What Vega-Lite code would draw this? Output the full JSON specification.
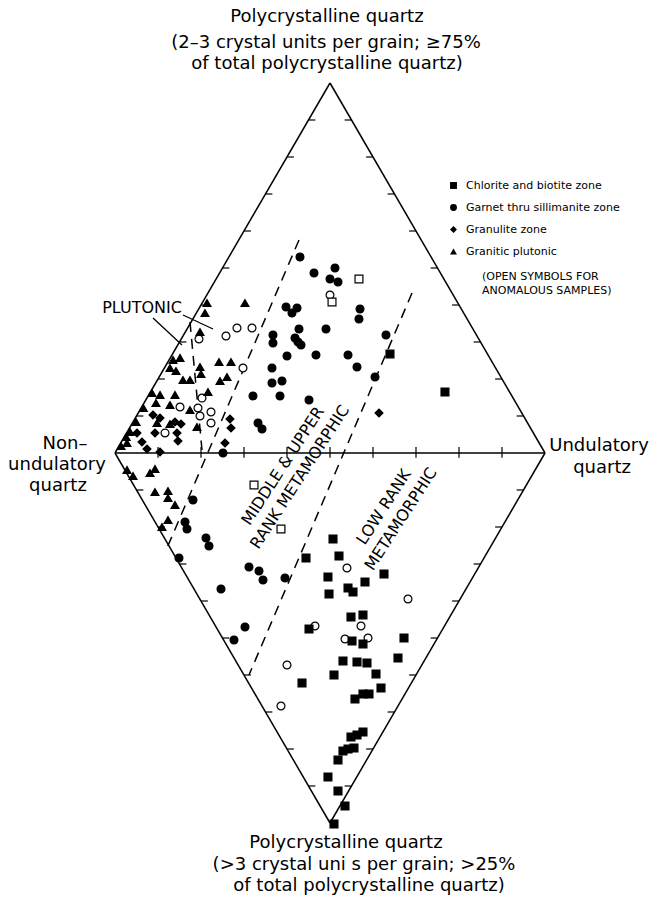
{
  "$schema": "https://vega.github.io/schema/vega-lite/v6.json",
  "width": 650,
  "height": 901,
  "autosize": "none",
  "padding": 0,
  "background": "white",
  "config": {"view": {"stroke": null}, "font": "DejaVu Sans"},
  "datasets": {
    "frame": [
      {"x": 0, "y": 0, "x2": 50, "y2": 100},
      {"x": 50, "y": 100, "x2": 100, "y2": 0},
      {"x": 100, "y": 0, "x2": 50, "y2": -100},
      {"x": 50, "y": -100, "x2": 0, "y2": 0},
      {"x": 0, "y": 0, "x2": 100, "y2": 0}
    ],
    "ticks": [
      {"x": 5, "y": 10, "x2": 6.6, "y2": 10}, {"x": 10, "y": 20, "x2": 11.6, "y2": 20}, {"x": 15, "y": 30, "x2": 16.6, "y2": 30},
      {"x": 20, "y": 40, "x2": 21.6, "y2": 40}, {"x": 25, "y": 50, "x2": 26.6, "y2": 50}, {"x": 30, "y": 60, "x2": 31.6, "y2": 60},
      {"x": 35, "y": 70, "x2": 36.6, "y2": 70}, {"x": 40, "y": 80, "x2": 41.6, "y2": 80}, {"x": 45, "y": 90, "x2": 46.6, "y2": 90},
      {"x": 95, "y": 10, "x2": 93.4, "y2": 10}, {"x": 90, "y": 20, "x2": 88.4, "y2": 20}, {"x": 85, "y": 30, "x2": 83.4, "y2": 30},
      {"x": 80, "y": 40, "x2": 78.4, "y2": 40}, {"x": 75, "y": 50, "x2": 73.4, "y2": 50}, {"x": 70, "y": 60, "x2": 68.4, "y2": 60},
      {"x": 65, "y": 70, "x2": 63.4, "y2": 70}, {"x": 60, "y": 80, "x2": 58.4, "y2": 80}, {"x": 55, "y": 90, "x2": 53.4, "y2": 90},
      {"x": 5, "y": -10, "x2": 6.6, "y2": -10}, {"x": 10, "y": -20, "x2": 11.6, "y2": -20}, {"x": 15, "y": -30, "x2": 16.6, "y2": -30},
      {"x": 20, "y": -40, "x2": 21.6, "y2": -40}, {"x": 25, "y": -50, "x2": 26.6, "y2": -50}, {"x": 30, "y": -60, "x2": 31.6, "y2": -60},
      {"x": 35, "y": -70, "x2": 36.6, "y2": -70}, {"x": 40, "y": -80, "x2": 41.6, "y2": -80}, {"x": 45, "y": -90, "x2": 46.6, "y2": -90},
      {"x": 95, "y": -10, "x2": 93.4, "y2": -10}, {"x": 90, "y": -20, "x2": 88.4, "y2": -20}, {"x": 85, "y": -30, "x2": 83.4, "y2": -30},
      {"x": 80, "y": -40, "x2": 78.4, "y2": -40}, {"x": 75, "y": -50, "x2": 73.4, "y2": -50}, {"x": 70, "y": -60, "x2": 68.4, "y2": -60},
      {"x": 65, "y": -70, "x2": 63.4, "y2": -70}, {"x": 60, "y": -80, "x2": 58.4, "y2": -80}, {"x": 55, "y": -90, "x2": 53.4, "y2": -90},
      {"x": 10, "y": -1.3, "x2": 10, "y2": 1.6}, {"x": 20, "y": -1.3, "x2": 20, "y2": 1.6}, {"x": 30, "y": -1.3, "x2": 30, "y2": 1.6},
      {"x": 40, "y": -1.3, "x2": 40, "y2": 1.6}, {"x": 50, "y": -1.3, "x2": 50, "y2": 1.6}, {"x": 60, "y": -1.3, "x2": 60, "y2": 1.6},
      {"x": 70, "y": -1.3, "x2": 70, "y2": 1.6}, {"x": 80, "y": -1.3, "x2": 80, "y2": 1.6}, {"x": 90, "y": -1.3, "x2": 90, "y2": 1.6}
    ],
    "dashes": [
      {"x": 42.79, "y": 57.57, "x2": 12.09, "y2": -25.68},
      {"x": 69.07, "y": 43.24, "x2": 31.16, "y2": -60.0},
      {"x": 17.44, "y": 35.41, "x2": 20.23, "y2": 0.81}
    ],
    "leaders": [
      {"x": 8.84, "y": 36.49, "x2": 15.58, "y2": 29.19},
      {"x": 15.81, "y": 37.3, "x2": 22.79, "y2": 33.51}
    ],
    "points": [
      {"x": 43.02, "y": 52.97, "zone": "Garnet thru sillimanite zone", "open": 0},
      {"x": 46.28, "y": 48.65, "zone": "Garnet thru sillimanite zone", "open": 0},
      {"x": 51.16, "y": 50.0, "zone": "Garnet thru sillimanite zone", "open": 0},
      {"x": 50.0, "y": 47.03, "zone": "Garnet thru sillimanite zone", "open": 0},
      {"x": 51.86, "y": 46.22, "zone": "Garnet thru sillimanite zone", "open": 0},
      {"x": 39.77, "y": 39.46, "zone": "Garnet thru sillimanite zone", "open": 0},
      {"x": 41.16, "y": 37.84, "zone": "Garnet thru sillimanite zone", "open": 0},
      {"x": 42.33, "y": 39.19, "zone": "Garnet thru sillimanite zone", "open": 0},
      {"x": 56.98, "y": 38.92, "zone": "Garnet thru sillimanite zone", "open": 0},
      {"x": 56.74, "y": 36.22, "zone": "Garnet thru sillimanite zone", "open": 0},
      {"x": 42.79, "y": 33.51, "zone": "Garnet thru sillimanite zone", "open": 0},
      {"x": 49.07, "y": 33.51, "zone": "Garnet thru sillimanite zone", "open": 0},
      {"x": 41.86, "y": 31.08, "zone": "Garnet thru sillimanite zone", "open": 0},
      {"x": 42.56, "y": 30.0, "zone": "Garnet thru sillimanite zone", "open": 0},
      {"x": 43.26, "y": 29.19, "zone": "Garnet thru sillimanite zone", "open": 0},
      {"x": 63.02, "y": 31.89, "zone": "Garnet thru sillimanite zone", "open": 0},
      {"x": 40.0, "y": 26.22, "zone": "Garnet thru sillimanite zone", "open": 0},
      {"x": 46.74, "y": 26.49, "zone": "Garnet thru sillimanite zone", "open": 0},
      {"x": 54.19, "y": 26.49, "zone": "Garnet thru sillimanite zone", "open": 0},
      {"x": 56.28, "y": 23.24, "zone": "Garnet thru sillimanite zone", "open": 0},
      {"x": 38.84, "y": 19.46, "zone": "Garnet thru sillimanite zone", "open": 0},
      {"x": 60.47, "y": 20.54, "zone": "Garnet thru sillimanite zone", "open": 0},
      {"x": 38.37, "y": 15.41, "zone": "Garnet thru sillimanite zone", "open": 0},
      {"x": 45.12, "y": 14.32, "zone": "Garnet thru sillimanite zone", "open": 0},
      {"x": 36.74, "y": 31.89, "zone": "Garnet thru sillimanite zone", "open": 0},
      {"x": 36.74, "y": 29.73, "zone": "Garnet thru sillimanite zone", "open": 0},
      {"x": 36.51, "y": 22.97, "zone": "Garnet thru sillimanite zone", "open": 0},
      {"x": 36.51, "y": 18.92, "zone": "Garnet thru sillimanite zone", "open": 0},
      {"x": 32.09, "y": 15.41, "zone": "Garnet thru sillimanite zone", "open": 0},
      {"x": 33.26, "y": 8.11, "zone": "Garnet thru sillimanite zone", "open": 0},
      {"x": 34.19, "y": 6.49, "zone": "Garnet thru sillimanite zone", "open": 0},
      {"x": 25.12, "y": 0, "zone": "Garnet thru sillimanite zone", "open": 0},
      {"x": 18.14, "y": -12.7, "zone": "Garnet thru sillimanite zone", "open": 0},
      {"x": 16.28, "y": -18.65, "zone": "Garnet thru sillimanite zone", "open": 0},
      {"x": 16.74, "y": -20.54, "zone": "Garnet thru sillimanite zone", "open": 0},
      {"x": 21.16, "y": -22.97, "zone": "Garnet thru sillimanite zone", "open": 0},
      {"x": 21.86, "y": -25.14, "zone": "Garnet thru sillimanite zone", "open": 0},
      {"x": 14.88, "y": -28.38, "zone": "Garnet thru sillimanite zone", "open": 0},
      {"x": 31.16, "y": -30.81, "zone": "Garnet thru sillimanite zone", "open": 0},
      {"x": 33.49, "y": -31.89, "zone": "Garnet thru sillimanite zone", "open": 0},
      {"x": 34.42, "y": -34.32, "zone": "Garnet thru sillimanite zone", "open": 0},
      {"x": 39.53, "y": -33.78, "zone": "Garnet thru sillimanite zone", "open": 0},
      {"x": 24.65, "y": -36.76, "zone": "Garnet thru sillimanite zone", "open": 0},
      {"x": 30.23, "y": -47.03, "zone": "Garnet thru sillimanite zone", "open": 0},
      {"x": 27.67, "y": -50.54, "zone": "Garnet thru sillimanite zone", "open": 0},
      {"x": 50.0, "y": 42.7, "zone": "Garnet thru sillimanite zone", "open": 1},
      {"x": 28.37, "y": 33.78, "zone": "Garnet thru sillimanite zone", "open": 1},
      {"x": 31.86, "y": 33.78, "zone": "Garnet thru sillimanite zone", "open": 1},
      {"x": 25.81, "y": 31.62, "zone": "Garnet thru sillimanite zone", "open": 1},
      {"x": 19.53, "y": 30.81, "zone": "Garnet thru sillimanite zone", "open": 1},
      {"x": 29.77, "y": 22.97, "zone": "Garnet thru sillimanite zone", "open": 1},
      {"x": 20.23, "y": 14.86, "zone": "Garnet thru sillimanite zone", "open": 1},
      {"x": 15.12, "y": 12.43, "zone": "Garnet thru sillimanite zone", "open": 1},
      {"x": 19.3, "y": 12.16, "zone": "Garnet thru sillimanite zone", "open": 1},
      {"x": 19.77, "y": 10.0, "zone": "Garnet thru sillimanite zone", "open": 1},
      {"x": 22.33, "y": 11.08, "zone": "Garnet thru sillimanite zone", "open": 1},
      {"x": 22.33, "y": 8.11, "zone": "Garnet thru sillimanite zone", "open": 1},
      {"x": 11.63, "y": 5.41, "zone": "Garnet thru sillimanite zone", "open": 1},
      {"x": 53.95, "y": -31.08, "zone": "Garnet thru sillimanite zone", "open": 1},
      {"x": 68.14, "y": -39.46, "zone": "Garnet thru sillimanite zone", "open": 1},
      {"x": 57.21, "y": -46.76, "zone": "Garnet thru sillimanite zone", "open": 1},
      {"x": 46.51, "y": -46.76, "zone": "Garnet thru sillimanite zone", "open": 1},
      {"x": 53.49, "y": -50.27, "zone": "Garnet thru sillimanite zone", "open": 1},
      {"x": 58.84, "y": -50.0, "zone": "Garnet thru sillimanite zone", "open": 1},
      {"x": 40.0, "y": -57.3, "zone": "Garnet thru sillimanite zone", "open": 1},
      {"x": 38.6, "y": -68.38, "zone": "Garnet thru sillimanite zone", "open": 1},
      {"x": 56.74, "y": 47.03, "zone": "Chlorite and biotite zone", "open": 1},
      {"x": 50.47, "y": 40.81, "zone": "Chlorite and biotite zone", "open": 1},
      {"x": 32.33, "y": -8.65, "zone": "Chlorite and biotite zone", "open": 1},
      {"x": 38.6, "y": -20.54, "zone": "Chlorite and biotite zone", "open": 1},
      {"x": 63.95, "y": 26.76, "zone": "Chlorite and biotite zone", "open": 0},
      {"x": 76.74, "y": 16.49, "zone": "Chlorite and biotite zone", "open": 0},
      {"x": 44.42, "y": -28.38, "zone": "Chlorite and biotite zone", "open": 0},
      {"x": 50.7, "y": -23.24, "zone": "Chlorite and biotite zone", "open": 0},
      {"x": 52.09, "y": -27.84, "zone": "Chlorite and biotite zone", "open": 0},
      {"x": 49.53, "y": -33.51, "zone": "Chlorite and biotite zone", "open": 0},
      {"x": 49.77, "y": -38.11, "zone": "Chlorite and biotite zone", "open": 0},
      {"x": 45.12, "y": -47.57, "zone": "Chlorite and biotite zone", "open": 0},
      {"x": 58.14, "y": -34.86, "zone": "Chlorite and biotite zone", "open": 0},
      {"x": 62.56, "y": -32.7, "zone": "Chlorite and biotite zone", "open": 0},
      {"x": 54.19, "y": -36.49, "zone": "Chlorite and biotite zone", "open": 0},
      {"x": 55.35, "y": -37.57, "zone": "Chlorite and biotite zone", "open": 0},
      {"x": 54.88, "y": -44.32, "zone": "Chlorite and biotite zone", "open": 0},
      {"x": 57.67, "y": -43.78, "zone": "Chlorite and biotite zone", "open": 0},
      {"x": 55.12, "y": -50.81, "zone": "Chlorite and biotite zone", "open": 0},
      {"x": 57.67, "y": -51.62, "zone": "Chlorite and biotite zone", "open": 0},
      {"x": 67.21, "y": -50.0, "zone": "Chlorite and biotite zone", "open": 0},
      {"x": 65.81, "y": -55.41, "zone": "Chlorite and biotite zone", "open": 0},
      {"x": 53.02, "y": -56.22, "zone": "Chlorite and biotite zone", "open": 0},
      {"x": 56.28, "y": -56.49, "zone": "Chlorite and biotite zone", "open": 0},
      {"x": 58.6, "y": -56.76, "zone": "Chlorite and biotite zone", "open": 0},
      {"x": 50.93, "y": -60.0, "zone": "Chlorite and biotite zone", "open": 0},
      {"x": 60.7, "y": -59.73, "zone": "Chlorite and biotite zone", "open": 0},
      {"x": 43.49, "y": -62.16, "zone": "Chlorite and biotite zone", "open": 0},
      {"x": 61.86, "y": -63.51, "zone": "Chlorite and biotite zone", "open": 0},
      {"x": 55.81, "y": -66.49, "zone": "Chlorite and biotite zone", "open": 0},
      {"x": 57.67, "y": -65.14, "zone": "Chlorite and biotite zone", "open": 0},
      {"x": 59.07, "y": -65.14, "zone": "Chlorite and biotite zone", "open": 0},
      {"x": 57.67, "y": -75.41, "zone": "Chlorite and biotite zone", "open": 0},
      {"x": 56.28, "y": -76.22, "zone": "Chlorite and biotite zone", "open": 0},
      {"x": 54.88, "y": -76.76, "zone": "Chlorite and biotite zone", "open": 0},
      {"x": 55.58, "y": -79.73, "zone": "Chlorite and biotite zone", "open": 0},
      {"x": 54.19, "y": -80.0, "zone": "Chlorite and biotite zone", "open": 0},
      {"x": 53.02, "y": -80.54, "zone": "Chlorite and biotite zone", "open": 0},
      {"x": 51.86, "y": -82.97, "zone": "Chlorite and biotite zone", "open": 0},
      {"x": 49.53, "y": -87.57, "zone": "Chlorite and biotite zone", "open": 0},
      {"x": 51.86, "y": -91.35, "zone": "Chlorite and biotite zone", "open": 0},
      {"x": 53.49, "y": -95.41, "zone": "Chlorite and biotite zone", "open": 0},
      {"x": 50.93, "y": -100.27, "zone": "Chlorite and biotite zone", "open": 0},
      {"x": 61.4, "y": 10.81, "zone": "Granulite zone", "open": 0},
      {"x": 8.84, "y": 10.27, "zone": "Granulite zone", "open": 0},
      {"x": 10.47, "y": 9.46, "zone": "Granulite zone", "open": 0},
      {"x": 13.95, "y": 8.38, "zone": "Granulite zone", "open": 0},
      {"x": 15.35, "y": 7.84, "zone": "Granulite zone", "open": 0},
      {"x": 9.3, "y": 5.41, "zone": "Granulite zone", "open": 0},
      {"x": 14.42, "y": 5.41, "zone": "Granulite zone", "open": 0},
      {"x": 14.65, "y": 3.24, "zone": "Granulite zone", "open": 0},
      {"x": 26.74, "y": 9.19, "zone": "Granulite zone", "open": 0},
      {"x": 26.98, "y": 6.76, "zone": "Granulite zone", "open": 0},
      {"x": 25.58, "y": 2.7, "zone": "Granulite zone", "open": 0},
      {"x": 7.44, "y": 1.08, "zone": "Granulite zone", "open": 0},
      {"x": 10.47, "y": 0.27, "zone": "Granulite zone", "open": 0},
      {"x": 5.12, "y": 5.41, "zone": "Granulite zone", "open": 0},
      {"x": 6.28, "y": 2.97, "zone": "Granulite zone", "open": 0},
      {"x": 21.4, "y": 40.54, "zone": "Granitic plutonic", "open": 0},
      {"x": 20.93, "y": 37.84, "zone": "Granitic plutonic", "open": 0},
      {"x": 30.23, "y": 40.54, "zone": "Granitic plutonic", "open": 0},
      {"x": 19.77, "y": 32.7, "zone": "Granitic plutonic", "open": 0},
      {"x": 13.49, "y": 25.14, "zone": "Granitic plutonic", "open": 0},
      {"x": 15.12, "y": 25.68, "zone": "Granitic plutonic", "open": 0},
      {"x": 12.79, "y": 22.97, "zone": "Granitic plutonic", "open": 0},
      {"x": 14.19, "y": 22.16, "zone": "Granitic plutonic", "open": 0},
      {"x": 19.77, "y": 23.24, "zone": "Granitic plutonic", "open": 0},
      {"x": 20.0, "y": 21.35, "zone": "Granitic plutonic", "open": 0},
      {"x": 24.19, "y": 24.59, "zone": "Granitic plutonic", "open": 0},
      {"x": 26.98, "y": 24.59, "zone": "Granitic plutonic", "open": 0},
      {"x": 26.05, "y": 20.54, "zone": "Granitic plutonic", "open": 0},
      {"x": 24.42, "y": 19.46, "zone": "Granitic plutonic", "open": 0},
      {"x": 17.44, "y": 19.73, "zone": "Granitic plutonic", "open": 0},
      {"x": 15.81, "y": 19.73, "zone": "Granitic plutonic", "open": 0},
      {"x": 10.47, "y": 15.68, "zone": "Granitic plutonic", "open": 0},
      {"x": 8.6, "y": 16.22, "zone": "Granitic plutonic", "open": 0},
      {"x": 13.95, "y": 15.68, "zone": "Granitic plutonic", "open": 0},
      {"x": 21.63, "y": 16.49, "zone": "Granitic plutonic", "open": 0},
      {"x": 9.53, "y": 13.51, "zone": "Granitic plutonic", "open": 0},
      {"x": 12.79, "y": 12.97, "zone": "Granitic plutonic", "open": 0},
      {"x": 17.44, "y": 11.62, "zone": "Granitic plutonic", "open": 0},
      {"x": 19.07, "y": 7.03, "zone": "Granitic plutonic", "open": 0},
      {"x": 6.6, "y": 12.16, "zone": "Granitic plutonic", "open": 0},
      {"x": 4.9, "y": 8.38, "zone": "Granitic plutonic", "open": 0},
      {"x": 2.6, "y": 4.32, "zone": "Granitic plutonic", "open": 0},
      {"x": 1.4, "y": 1.89, "zone": "Granitic plutonic", "open": 0},
      {"x": 2.79, "y": 2.7, "zone": "Granitic plutonic", "open": 0},
      {"x": 3.49, "y": 5.68, "zone": "Granitic plutonic", "open": 0},
      {"x": 9.77, "y": 8.11, "zone": "Granitic plutonic", "open": 0},
      {"x": 12.79, "y": 7.84, "zone": "Granitic plutonic", "open": 0},
      {"x": 2.79, "y": -4.59, "zone": "Granitic plutonic", "open": 0},
      {"x": 4.19, "y": -6.22, "zone": "Granitic plutonic", "open": 0},
      {"x": 8.14, "y": -5.41, "zone": "Granitic plutonic", "open": 0},
      {"x": 9.3, "y": -4.32, "zone": "Granitic plutonic", "open": 0},
      {"x": 9.3, "y": -10.54, "zone": "Granitic plutonic", "open": 0},
      {"x": 12.33, "y": -10.27, "zone": "Granitic plutonic", "open": 0},
      {"x": 12.33, "y": -12.16, "zone": "Granitic plutonic", "open": 0},
      {"x": 13.95, "y": -14.05, "zone": "Granitic plutonic", "open": 0},
      {"x": 12.33, "y": -18.11, "zone": "Granitic plutonic", "open": 0},
      {"x": 10.93, "y": -20.0, "zone": "Granitic plutonic", "open": 0}
    ],
    "corner": [
      {"x": 49.3, "y": 117.84, "t": "Polycrystalline quartz"},
      {"x": 49.07, "y": 110.81, "t": "(2–3 crystal units per grain; ≥75%"},
      {"x": 49.3, "y": 105.14, "t": "of total polycrystalline quartz)"},
      {"x": 53.72, "y": -105.41, "t": "Polycrystalline quartz"},
      {"x": 57.91, "y": -111.35, "t": "(>3 crystal uni s per grain; >25%"},
      {"x": 59.07, "y": -117.03, "t": "of total polycrystalline quartz)"},
      {"x": -11.63, "y": 2.43, "t": "Non–"},
      {"x": -13.49, "y": -3.24, "t": "undulatory"},
      {"x": -13.26, "y": -8.92, "t": "quartz"},
      {"x": 112.56, "y": 1.89, "t": "Undulatory"},
      {"x": 113.26, "y": -4.05, "t": "quartz"}
    ],
    "plut": [{"x": 6.28, "y": 39.19, "t": "PLUTONIC"}],
    "fields": [
      {"x": 39.07, "y": -3.51, "t": "MIDDLE & UPPER"},
      {"x": 43.02, "y": -6.49, "t": "RANK METAMORPHIC"},
      {"x": 62.56, "y": -14.59, "t": "LOW RANK"},
      {"x": 66.51, "y": -17.84, "t": "METAMORPHIC"}
    ],
    "note": [
      {"x": 85.35, "y": 47.57, "t": "(OPEN SYMBOLS FOR"},
      {"x": 85.35, "y": 43.78, "t": "ANOMALOUS SAMPLES)"}
    ]
  },
  "encoding": {
    "x": {"field": "x", "type": "quantitative", "axis": null, "scale": {"domain": [-26.744, 124.419], "nice": false, "zero": false}},
    "y": {"field": "y", "type": "quantitative", "axis": null, "scale": {"domain": [-121.081, 122.432], "nice": false, "zero": false}}
  },
  "layer": [
    {
      "data": {"name": "frame"},
      "mark": {"type": "rule", "color": "black", "strokeWidth": 1.5},
      "encoding": {"x2": {"field": "x2"}, "y2": {"field": "y2"}}
    },
    {
      "data": {"name": "ticks"},
      "mark": {"type": "rule", "color": "black", "strokeWidth": 1.2},
      "encoding": {"x2": {"field": "x2"}, "y2": {"field": "y2"}}
    },
    {
      "data": {"name": "dashes"},
      "mark": {"type": "rule", "color": "black", "strokeWidth": 1.5, "strokeDash": [10, 7]},
      "encoding": {"x2": {"field": "x2"}, "y2": {"field": "y2"}}
    },
    {
      "data": {"name": "leaders"},
      "mark": {"type": "rule", "color": "black", "strokeWidth": 1.3},
      "encoding": {"x2": {"field": "x2"}, "y2": {"field": "y2"}}
    },
    {
      "data": {"name": "points"},
      "mark": {"type": "point", "filled": true, "size": 62, "stroke": "black", "strokeWidth": 1.2, "opacity": 1},
      "encoding": {
        "shape": {
          "field": "zone", "type": "nominal",
          "scale": {"domain": ["Chlorite and biotite zone", "Garnet thru sillimanite zone", "Granulite zone", "Granitic plutonic"], "range": ["square", "circle", "diamond", "triangle-up"]},
          "legend": {"orient": "none", "legendX": 448, "legendY": 180, "title": null, "padding": 0, "labelFont": "DejaVu Sans", "labelFontSize": 11, "labelColor": "black", "symbolFillColor": "black", "symbolStrokeColor": "black", "symbolSize": 48, "rowPadding": 9, "labelOffset": 7}
        },
        "fill": {"condition": {"test": "datum.open == 1", "value": "white"}, "value": "black"}
      }
    },
    {
      "data": {"name": "corner"},
      "mark": {"type": "text", "font": "DejaVu Sans", "fontSize": 18, "color": "black", "align": "center", "baseline": "middle"},
      "encoding": {"text": {"field": "t"}}
    },
    {
      "data": {"name": "plut"},
      "mark": {"type": "text", "font": "DejaVu Sans", "fontSize": 16, "color": "black", "align": "center", "baseline": "middle"},
      "encoding": {"text": {"field": "t"}}
    },
    {
      "data": {"name": "fields"},
      "mark": {"type": "text", "font": "DejaVu Sans", "fontSize": 16, "color": "black", "align": "center", "baseline": "middle", "angle": 303},
      "encoding": {"text": {"field": "t"}}
    },
    {
      "data": {"name": "note"},
      "mark": {"type": "text", "font": "DejaVu Sans", "fontSize": 11, "color": "black", "align": "left", "baseline": "middle"},
      "encoding": {"text": {"field": "t"}}
    }
  ]
}
